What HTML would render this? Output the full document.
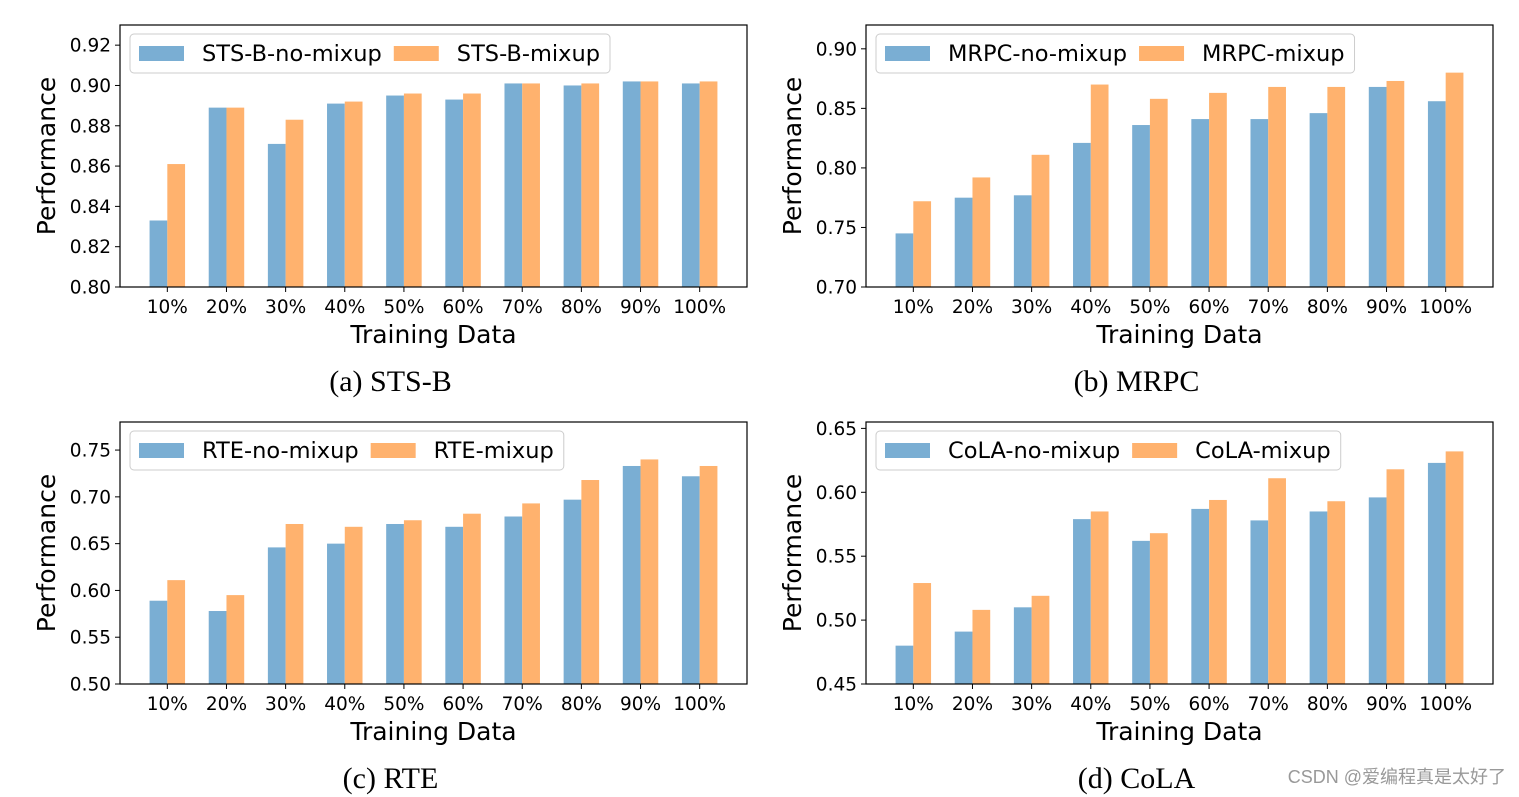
<!DOCTYPE html>
<html><head><meta charset="utf-8"><style>
body{margin:0;background:#fff;}
svg{display:block;font-family:"DejaVu Sans","Liberation Sans",sans-serif;}
</style></head><body>
<svg id="fig" width="1519" height="797" viewBox="0 0 1519 797" xmlns="http://www.w3.org/2000/svg"></svg>
<script>
const categories=["10%","20%","30%","40%","50%","60%","70%","80%","90%","100%"];
const stsbNo=[0.833,0.889,0.871,0.891,0.895,0.893,0.901,0.900,0.902,0.901];
const stsbMix=[0.861,0.889,0.883,0.892,0.896,0.896,0.901,0.901,0.902,0.902];
const mrpcNo=[0.745,0.775,0.777,0.821,0.836,0.841,0.841,0.846,0.868,0.856];
const mrpcMix=[0.772,0.792,0.811,0.870,0.858,0.863,0.868,0.868,0.873,0.880];
const rteNo=[0.589,0.578,0.646,0.650,0.671,0.668,0.679,0.697,0.733,0.722];
const rteMix=[0.611,0.595,0.671,0.668,0.675,0.682,0.693,0.718,0.740,0.733];
const colaNo=[0.480,0.491,0.510,0.579,0.562,0.587,0.578,0.585,0.596,0.623];
const colaMix=[0.529,0.508,0.519,0.585,0.568,0.594,0.611,0.593,0.618,0.632];
const stsbTicks=[0.80,0.82,0.84,0.86,0.88,0.90,0.92];
const mrpcTicks=[0.70,0.75,0.80,0.85,0.90];
const rteTicks=[0.50,0.55,0.60,0.65,0.70,0.75];
const colaTicks=[0.45,0.50,0.55,0.60,0.65];

const NS="http://www.w3.org/2000/svg";
const svg=document.getElementById('fig');
function mk(tag,attrs,parent){const e=document.createElementNS(NS,tag);for(const k in attrs)e.setAttribute(k,attrs[k]);(parent||svg).appendChild(e);return e;}

const panels=[
 {key:'stsb',L:120,T:25,B:287,ymin:0.80,ymax:0.93,ticks:stsbTicks,dec:2,no:stsbNo,mix:stsbMix,n1:'STS-B-no-mixup',n2:'STS-B-mixup',cap:'(a)  STS-B',legW:478},
 {key:'mrpc',L:866,T:25,B:287,ymin:0.70,ymax:0.92,ticks:mrpcTicks,dec:2,no:mrpcNo,mix:mrpcMix,n1:'MRPC-no-mixup',n2:'MRPC-mixup',cap:'(b)  MRPC',legW:474},
 {key:'rte',L:120,T:422,B:684,ymin:0.50,ymax:0.78,ticks:rteTicks,dec:2,no:rteNo,mix:rteMix,n1:'RTE-no-mixup',n2:'RTE-mixup',cap:'(c)  RTE',legW:434},
 {key:'cola',L:866,T:422,B:684,ymin:0.45,ymax:0.655,ticks:colaTicks,dec:2,no:colaNo,mix:colaMix,n1:'CoLA-no-mixup',n2:'CoLA-mixup',cap:'(d)  CoLA',legW:460}
];
const W=627;
panels.forEach(p=>{
  const g=mk('g',{});
  
  
  const H=p.B-p.T;
  const ys=v=>p.B-(v-p.ymin)/(p.ymax-p.ymin)*H;
  const step=W/10.6;
  const xs=i=>p.L+(i+0.8)*step;
  const bw=0.3*step;
  categories.forEach((c,i)=>{
    const b1=mk('rect',{x:xs(i)-bw,y:ys(p.no[i]),width:bw,height:p.B-ys(p.no[i]),fill:'#7aaed3'},g);
    
    
    const b2=mk('rect',{x:xs(i),y:ys(p.mix[i]),width:bw,height:p.B-ys(p.mix[i]),fill:'#ffb26e'},g);
    
    
    mk('line',{x1:xs(i),x2:xs(i),y1:p.B,y2:p.B+5,stroke:'#000','stroke-width':1},g);
    const t=mk('text',{x:xs(i),y:p.B+26,'font-size':18.5,'text-anchor':'middle'},g);t.textContent=c;
    
    
  });
  p.ticks.forEach(v=>{
    const y=ys(v);
    mk('line',{x1:p.L-5,x2:p.L,y1:y,y2:y,stroke:'#000','stroke-width':1},g);
    const t=mk('text',{x:p.L-9,y:y+6.5,'font-size':18.5,'text-anchor':'end'},g);t.textContent=v.toFixed(p.dec);
    
    
  });
  mk('rect',{x:p.L,y:p.T,width:W,height:H,fill:'none',stroke:'#000','stroke-width':1.2},g);
  const xl=mk('text',{x:p.L+W/2,y:p.B+56,'font-size':25,'text-anchor':'middle'},g);xl.textContent='Training Data';
  
  
  const yl=mk('text',{x:0,y:0,'font-size':25,'text-anchor':'middle',transform:`translate(${p.L-65},${p.T+H/2}) rotate(-90)`},g);yl.textContent='Performance';
  
  
  const cap=mk('text',{x:p.L+W/2-43,y:p.B+104,'font-size':30,'text-anchor':'middle','font-family':'"Liberation Serif",serif'},g);cap.textContent=p.cap;
  
  
  const lg=mk('g',{},g);
  
  
  mk('rect',{x:p.L+10,y:p.T+9,width:p.legW,height:39,rx:4,fill:'#fff',stroke:'#ccc','stroke-width':1},lg);
  mk('rect',{x:p.L+19,y:p.T+21,width:45,height:15,fill:'#7aaed3'},lg);
  const t1=mk('text',{x:p.L+82,y:p.T+36,'font-size':22.5},lg);t1.textContent=p.n1;
  
  
  const w1=t1.getComputedTextLength();
  const x2=p.L+82+w1+12;
  mk('rect',{x:x2,y:p.T+21,width:45,height:15,fill:'#ffb26e'},lg);
  const t2=mk('text',{x:x2+63,y:p.T+36,'font-size':22.5},lg);t2.textContent=p.n2;
  
  
  const w2=t2.getComputedTextLength();
  lg.firstChild.setAttribute('width', x2+63+w2+10-(p.L+10));
});
const wm=mk('text',{x:1506,y:783,'font-size':18,'text-anchor':'end',fill:'#999','font-family':'"Liberation Sans","Noto Sans CJK SC",sans-serif'});
wm.textContent='CSDN @爱编程真是太好了';


</script>
</body></html>
